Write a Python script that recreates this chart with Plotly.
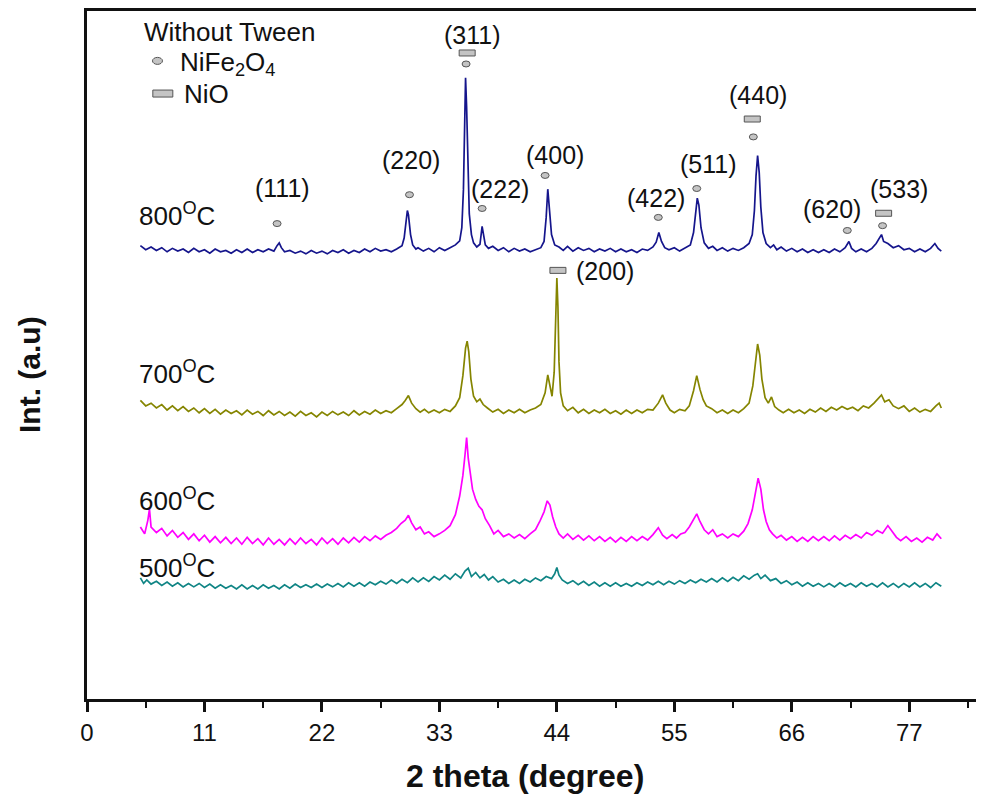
import plotly.graph_objects as go

# ---------------- data ----------------
tt_800 = [5.0, 5.5, 6.0, 6.5, 7.0, 7.5, 8.0, 8.5, 9.0, 9.5, 10.0, 10.5, 11.0, 11.5, 12.0, 12.5, 13.0, 13.5, 14.0, 14.5,
          15.0, 15.5, 16.0, 16.5, 17.0, 17.5, 17.8, 18.0, 18.2, 18.5, 19.0, 19.5, 20.0, 20.5, 21.0, 21.5, 22.0, 22.5,
          23.0, 23.5, 24.0, 24.5, 25.0, 25.5, 26.0, 26.5, 27.0, 27.5, 28.0, 28.5, 29.0, 29.5, 29.7, 29.9, 30.0, 30.1,
          30.3, 30.5, 30.8, 31.0, 31.5, 32.0, 32.5, 33.0, 33.5, 34.0, 34.5, 34.9, 35.1, 35.25, 35.35, 35.45, 35.55,
          35.65, 35.8, 36.0, 36.2, 36.5, 36.8, 37.0, 37.15, 37.3, 37.6, 38.0, 38.5, 39.0, 39.5, 40.0, 40.5, 41.0,
          41.5, 42.0, 42.5, 42.8, 43.0, 43.15, 43.3, 43.5, 43.8, 44.2, 44.6, 45.0, 45.5, 46.0, 46.5, 47.0, 47.5,
          48.0, 48.5, 49.0, 49.5, 50.0, 50.5, 51.0, 51.5, 52.0, 52.5, 53.0, 53.3, 53.55, 53.8, 54.1, 54.5, 55.0,
          55.5, 56.0, 56.5, 56.8, 57.0, 57.15, 57.3, 57.5, 57.8, 58.2, 58.6, 59.0, 59.5, 60.0, 60.5, 61.0, 61.5,
          62.0, 62.3, 62.5, 62.65, 62.8, 62.95, 63.1, 63.3, 63.6, 64.0, 64.3, 64.6, 65.0, 65.5, 66.0, 66.5, 67.0,
          67.5, 68.0, 68.5, 69.0, 69.5, 70.0, 70.5, 71.0, 71.35, 71.6, 72.0, 72.5, 73.0, 73.5, 73.9, 74.2, 74.4,
          74.6, 75.0, 75.5, 76.0, 76.5, 77.0, 77.5, 78.0, 78.5, 79.0, 79.4, 79.7, 80.0]
int_800 = [65.9, 65.3, 65.7, 65.2, 65.6, 65.0, 65.5, 65.1, 65.4, 64.9, 65.5, 65.0, 65.3, 64.8, 65.4, 65.0, 65.2, 64.8, 65.3, 64.9,
           65.4, 64.9, 65.3, 65.0, 65.4, 65.1, 65.9, 66.3, 65.6, 65.0, 65.2, 64.8, 65.1, 64.7, 65.2, 64.8, 65.1, 64.7,
           65.2, 64.9, 65.3, 64.8, 65.2, 64.9, 65.4, 65.0, 65.5, 65.1, 65.3, 65.0, 65.4, 65.9, 67.0, 70.0, 71.0, 70.4,
           67.5, 66.0, 65.4, 65.6, 65.1, 65.5, 65.0, 65.6, 65.2, 65.6, 66.0, 66.6, 68.5, 74.0, 82.0, 90.3, 86.0,
           78.0, 70.5, 67.5, 66.3, 65.7, 66.1, 68.7, 67.2, 66.0, 65.5, 65.8, 65.2, 65.6, 65.0, 65.5, 65.1, 65.4,
           65.0, 65.3, 65.6, 66.5, 70.0, 74.1, 71.5, 67.5, 66.0, 65.7, 65.2, 65.8, 65.1, 65.6, 65.2, 65.5, 65.0,
           65.4, 65.1, 65.5, 65.0, 65.4, 65.0, 65.3, 64.9, 65.4, 65.2, 65.7, 66.4, 67.8, 66.5, 65.6, 65.3, 65.6,
           65.1, 65.5, 66.0, 67.8, 71.0, 72.8, 71.8, 68.5, 66.3, 65.5, 65.8, 65.2, 65.6, 65.1, 65.5, 65.2, 65.6,
           66.2, 67.5, 71.0, 76.0, 79.0, 76.5, 71.5, 67.8, 66.2, 65.6, 66.0, 65.3, 65.7, 65.1, 65.5, 65.0, 65.4,
           64.9, 65.3, 64.9, 65.3, 64.9, 65.4, 65.0, 65.6, 66.5, 65.5, 65.0, 65.4, 65.0, 65.5, 66.2, 67.0, 67.5,
           66.5, 66.2, 65.6, 65.9, 65.3, 65.5, 65.0, 65.4, 65.0, 65.5, 66.2, 65.5, 65.1]

tt_700 = [5.0, 5.5, 6.0, 6.5, 7.0, 7.5, 8.0, 8.5, 9.0, 9.5, 10.0, 10.5, 11.0, 11.5, 12.0, 12.5, 13.0, 13.5, 14.0, 14.5,
          15.0, 15.5, 16.0, 16.5, 17.0, 17.5, 18.0, 18.5, 19.0, 19.5, 20.0, 20.5, 21.0, 21.5, 22.0, 22.5, 23.0, 23.5,
          24.0, 24.5, 25.0, 25.5, 26.0, 26.5, 27.0, 27.5, 28.0, 28.5, 29.0, 29.5, 29.8, 30.1, 30.4, 30.8, 31.2, 31.6,
          32.0, 32.5, 33.0, 33.5, 34.0, 34.5, 34.9, 35.2, 35.45, 35.6, 35.75, 35.95, 36.2, 36.5, 36.8, 37.1, 37.5,
          38.0, 38.5, 39.0, 39.5, 40.0, 40.5, 41.0, 41.5, 42.0, 42.5, 42.9, 43.15, 43.35, 43.55, 43.75, 43.9, 44.0,
          44.1, 44.2, 44.35, 44.6, 45.0, 45.5, 46.0, 46.5, 47.0, 47.5, 48.0, 48.5, 49.0, 49.5, 50.0, 50.5, 51.0,
          51.5, 52.0, 52.5, 53.0, 53.5, 53.9, 54.2, 54.6, 55.0, 55.5, 56.0, 56.4, 56.8, 57.1, 57.4, 57.7, 58.0,
          58.5, 59.0, 59.5, 60.0, 60.5, 61.0, 61.5, 62.0, 62.35, 62.6, 62.8, 63.0, 63.2, 63.5, 63.8, 64.1, 64.4,
          64.8, 65.2, 65.7, 66.2, 66.7, 67.2, 67.7, 68.2, 68.7, 69.2, 69.7, 70.2, 70.7, 71.2, 71.7, 72.2, 72.7,
          73.2, 73.7, 74.1, 74.4, 74.7, 75.1, 75.5, 76.0, 76.5, 77.0, 77.5, 78.0, 78.5, 79.0, 79.5, 79.8, 80.0]
int_700 = [43.4, 42.6, 43.0, 42.3, 42.8, 42.0, 42.6, 41.9, 42.5, 41.8, 42.3, 41.6, 42.2, 41.5, 42.1, 41.4, 42.0, 41.5, 41.9, 41.3,
           42.0, 41.4, 41.8, 41.2, 41.9, 41.3, 41.8, 41.2, 41.7, 41.1, 41.8, 41.2, 41.6, 41.0, 41.7, 41.2, 41.8, 41.3,
           41.7, 41.2, 41.9, 41.3, 41.8, 41.4, 42.0, 41.5, 41.9, 41.6, 42.2, 42.8, 43.4, 44.1, 43.0, 42.2, 41.7, 42.1,
           41.6, 42.0, 41.6, 42.1, 41.8, 42.6, 43.8, 47.0, 51.0, 52.0, 50.5, 46.5, 44.0, 43.2, 43.6, 42.8, 42.3,
           41.7, 42.1, 41.5, 42.0, 41.6, 42.1, 41.6, 42.0, 42.3, 42.8, 44.5, 47.1, 45.5, 44.0, 47.5, 56.0, 61.2,
           57.0, 49.0, 44.5, 42.6, 41.9, 42.4, 41.6, 42.1, 41.5, 42.0, 41.6, 42.1, 41.5, 41.9, 41.4, 42.0, 41.5,
           42.0, 41.6, 42.1, 42.0, 43.0, 44.2, 43.0, 42.0, 41.6, 42.1, 41.9, 42.6, 44.8, 47.0, 45.0, 43.5, 42.6,
           42.2, 41.6, 42.0, 41.5, 42.0, 41.6, 42.2, 43.0, 45.5, 49.5, 51.6, 50.0, 46.5, 43.8, 43.0, 43.9, 42.5,
           42.0, 41.6, 42.1, 41.6, 42.0, 41.5, 42.1, 41.7, 42.3, 41.8, 42.4, 42.0, 42.5, 42.1, 42.4, 41.9, 42.6,
           42.3, 43.0, 43.6, 44.2, 43.2, 43.5, 42.6, 42.2, 42.6, 41.8, 42.3, 41.7, 42.1, 41.8, 42.6, 43.0, 42.3]

tt_600 = [5.0, 5.4, 5.7, 5.85, 6.0, 6.5, 7.0, 7.5, 8.0, 8.5, 9.0, 9.5, 10.0, 10.5, 11.0, 11.5, 12.0, 12.5, 13.0, 13.5,
          14.0, 14.5, 15.0, 15.5, 16.0, 16.5, 17.0, 17.5, 18.0, 18.5, 19.0, 19.5, 20.0, 20.5, 21.0, 21.5, 22.0, 22.5,
          23.0, 23.5, 24.0, 24.5, 25.0, 25.5, 26.0, 26.5, 27.0, 27.5, 28.0, 28.5, 29.0, 29.4, 29.8, 30.1, 30.4, 30.8,
          31.2, 31.6, 32.0, 32.5, 33.0, 33.5, 34.0, 34.5, 34.9, 35.2, 35.4, 35.55, 35.7, 35.9, 36.1, 36.4, 36.7,
          37.0, 37.3, 37.7, 38.1, 38.5, 39.0, 39.5, 40.0, 40.5, 41.0, 41.5, 42.0, 42.4, 42.8, 43.1, 43.35, 43.6,
          43.9, 44.2, 44.6, 45.0, 45.5, 46.0, 46.5, 47.0, 47.5, 48.0, 48.5, 49.0, 49.5, 50.0, 50.5, 51.0, 51.5,
          52.0, 52.5, 53.0, 53.5, 53.9, 54.3, 54.8, 55.2, 55.6, 56.0, 56.4, 56.8, 57.1, 57.4, 57.8, 58.2, 58.6,
          59.0, 59.5, 60.0, 60.5, 61.0, 61.5, 61.9, 62.3, 62.6, 62.85, 63.1, 63.35, 63.6, 63.9, 64.2, 64.6, 65.0,
          65.5, 66.0, 66.5, 67.0, 67.5, 68.0, 68.5, 69.0, 69.5, 70.0, 70.5, 71.0, 71.5, 72.0, 72.5, 73.0, 73.5,
          74.0, 74.5, 75.0, 75.4, 75.8, 76.2, 76.7, 77.2, 77.7, 78.2, 78.7, 79.2, 79.6, 80.0]
int_600 = [25.0, 24.0, 26.0, 27.6, 25.0, 24.2, 24.8, 23.7, 24.5, 23.5, 24.2, 23.2, 24.0, 23.0, 23.8, 22.8, 23.6, 22.7, 23.5, 22.6,
           23.4, 22.5, 23.5, 22.6, 23.3, 22.4, 23.4, 22.5, 23.2, 22.4, 23.3, 22.5, 23.4, 22.6, 23.2, 22.4, 23.4, 22.6,
           23.3, 22.5, 23.4, 22.7, 23.5, 22.8, 23.6, 23.0, 23.7, 23.2, 23.8, 24.2, 24.8, 25.5, 26.0, 26.7, 25.6, 24.6,
           25.0, 24.0, 24.3, 23.6, 24.0, 24.5, 25.2, 26.8, 29.5, 32.5, 35.5, 38.0, 35.0, 32.5, 30.5, 29.0, 28.0,
           27.5, 26.2, 25.2, 24.0, 24.5, 23.6, 24.0, 23.4, 23.9, 23.3, 24.0, 24.6, 25.8, 27.2, 28.8, 28.2, 26.5,
           25.0, 24.0, 23.4, 24.0, 23.2, 23.8, 23.1, 23.7, 23.0, 23.6, 22.9, 23.5, 22.8, 23.5, 22.9, 23.6, 23.0,
           23.6, 23.1, 23.9, 24.9, 23.8, 23.3, 23.9, 23.4, 24.0, 24.2, 25.0, 26.0, 26.9, 25.8, 24.6, 24.0, 24.6,
           23.6, 24.0, 23.4, 24.0, 23.6, 24.4, 25.5, 27.5, 30.0, 32.1, 30.5, 27.5, 25.8, 24.6, 24.0, 23.4, 23.8,
           23.1, 23.6, 22.9, 23.5, 22.9, 23.6, 23.0, 23.6, 23.0, 23.7, 23.1, 23.8, 23.3, 23.9, 23.4, 24.2, 23.8,
           24.5, 24.1, 25.2, 24.3, 23.5, 23.0, 23.6, 22.9, 23.4, 22.8, 23.5, 23.1, 24.0, 23.3]

tt_500 = [5.0, 5.3, 5.6, 6.0, 6.5, 7.0, 7.5, 8.0, 8.5, 9.0, 9.5, 10.0, 10.5, 11.0, 11.5, 12.0, 12.5, 13.0, 13.5, 14.0,
          14.5, 15.0, 15.5, 16.0, 16.5, 17.0, 17.5, 18.0, 18.5, 19.0, 19.5, 20.0, 20.5, 21.0, 21.5, 22.0, 22.5, 23.0,
          23.5, 24.0, 24.5, 25.0, 25.5, 26.0, 26.5, 27.0, 27.5, 28.0, 28.5, 29.0, 29.5, 30.0, 30.5, 31.0, 31.5, 32.0,
          32.5, 33.0, 33.5, 34.0, 34.5, 35.0, 35.4, 35.7, 36.0, 36.4, 36.8, 37.2, 37.6, 38.0, 38.5, 39.0, 39.5,
          40.0, 40.5, 41.0, 41.5, 42.0, 42.5, 43.0, 43.5, 43.8, 44.0, 44.2, 44.5, 45.0, 45.5, 46.0, 46.5, 47.0,
          47.5, 48.0, 48.5, 49.0, 49.5, 50.0, 50.5, 51.0, 51.5, 52.0, 52.5, 53.0, 53.5, 54.0, 54.5, 55.0, 55.5,
          56.0, 56.5, 57.0, 57.5, 58.0, 58.5, 59.0, 59.5, 60.0, 60.5, 61.0, 61.5, 62.0, 62.5, 62.8, 63.1, 63.5,
          64.0, 64.5, 65.0, 65.5, 66.0, 66.5, 67.0, 67.5, 68.0, 68.5, 69.0, 69.5, 70.0, 70.5, 71.0, 71.5, 72.0,
          72.5, 73.0, 73.5, 74.0, 74.5, 75.0, 75.5, 76.0, 76.5, 77.0, 77.5, 78.0, 78.5, 79.0, 79.5, 80.0]
int_500 = [17.6, 16.8, 17.3, 16.7, 17.1, 16.5, 17.0, 16.4, 16.9, 16.3, 16.8, 16.3, 16.8, 16.2, 16.7, 16.1, 16.6, 16.1, 16.5, 16.0,
           16.6, 16.0, 16.5, 16.0, 16.6, 16.1, 16.5, 16.0, 16.6, 16.1, 16.7, 16.2, 16.6, 16.2, 16.7, 16.2, 16.7, 16.3,
           16.8, 16.3, 16.9, 16.4, 16.9, 16.4, 17.0, 16.6, 17.1, 16.7, 17.3, 16.8, 17.4, 16.9, 17.6, 17.0, 17.6, 17.1,
           17.8, 17.3, 18.0, 17.4, 18.2, 17.6, 18.6, 19.0, 17.8, 18.4, 17.6, 18.1, 17.3, 17.8, 17.0, 17.4, 16.8,
           17.3, 16.8, 17.4, 17.0, 17.6, 17.2, 17.8, 17.5, 18.2, 19.1, 18.0, 17.3, 16.8, 17.2, 16.6, 17.1, 16.5,
           17.0, 16.4, 16.9, 16.4, 16.9, 16.4, 16.8, 16.4, 16.9, 16.5, 17.0, 16.6, 17.1, 16.6, 17.1, 16.7, 17.2,
           16.8, 17.3, 16.9, 17.4, 17.0, 17.5, 17.0, 17.6, 17.1, 17.7, 17.2, 17.9, 17.4, 18.0, 18.2, 17.5, 18.0,
           17.2, 17.5, 16.8, 17.2, 16.6, 17.0, 16.4, 16.9, 16.4, 16.8, 16.3, 16.8, 16.3, 16.9, 16.4, 16.8, 16.3,
           16.9, 16.4, 16.8, 16.3, 16.9, 16.3, 16.8, 16.2, 16.8, 16.3, 16.9, 16.3, 16.8, 16.2, 16.9, 16.4]

series_names = ["800", "700", "600", "500"]
temp_label_x = [4.7, 4.7, 4.7, 4.7]
temp_label_y = [70.4, 47.4, 29.0, 19.3]

# phase markers (NiFe2O4 ellipses, NiO bars)
ferrite_x = [17.8, 30.2, 35.5, 37.0, 42.9, 53.5, 57.1, 62.4, 71.2, 74.5]
ferrite_y = [69.1, 73.3, 92.3, 71.3, 76.1, 70.0, 74.2, 81.7, 68.1, 68.8]
nio_x = [35.6, 62.3, 74.6, 44.1]
nio_y = [93.9, 84.3, 70.6, 62.3]

hkl_labels = ["(111)", "(220)", "(311)", "(222)", "(400)", "(422)", "(511)", "(440)", "(620)", "(533)", "(200)"]
hkl_x = [18.3, 30.3, 36.1, 38.7, 43.8, 53.3, 58.2, 62.8, 69.8, 76.0, 48.5]
hkl_y = [74.3, 78.4, 96.5, 74.2, 79.0, 72.8, 77.8, 87.8, 71.2, 74.2, 62.2]

x_ticks = [0, 11, 22, 33, 44, 55, 66, 77]

# ---------------- figure ----------------
colors = ["#15158c", "#858500", "#ff00ff", "#108585"]
xs = [tt_800, tt_700, tt_600, tt_500]
ys = [int_800, int_700, int_600, int_500]

fig = go.Figure()
for name, x, y, c in zip(series_names, xs, ys, colors):
    fig.add_trace(go.Scatter(x=x, y=y, mode="lines", name=name + " °C",
                             line=dict(color=c, width=1.7), showlegend=False))

FONT = "Liberation Sans, Arial, sans-serif"
MFILL = "#c4c4c4"
MLINE = "#555555"
shapes = []
for x, y in zip(ferrite_x, ferrite_y):
    shapes.append(dict(type="circle", xref="x", yref="y", xsizemode="pixel", ysizemode="pixel",
                       xanchor=x, yanchor=y, x0=-4, x1=4, y0=-3, y1=3,
                       fillcolor=MFILL, line=dict(color=MLINE, width=1)))
for x, y in zip(nio_x, nio_y):
    shapes.append(dict(type="rect", xref="x", yref="y", xsizemode="pixel", ysizemode="pixel",
                       xanchor=x, yanchor=y, x0=-8, x1=8, y0=-3, y1=3,
                       fillcolor=MFILL, line=dict(color=MLINE, width=1)))
# legend symbols
shapes.append(dict(type="circle", xref="x", yref="y", xsizemode="pixel", ysizemode="pixel",
                   xanchor=6.6, yanchor=92.75, x0=-5, x1=5, y0=-3.5, y1=3.5,
                   fillcolor=MFILL, line=dict(color=MLINE, width=1)))
shapes.append(dict(type="rect", xref="x", yref="y", xsizemode="pixel", ysizemode="pixel",
                   xanchor=7.1, yanchor=88.0, x0=-10, x1=10, y0=-3.5, y1=3.5,
                   fillcolor=MFILL, line=dict(color=MLINE, width=1)))

TXT = "#111111"
annotations = []
for t, x, y in zip(hkl_labels, hkl_x, hkl_y):
    annotations.append(dict(x=x, y=y, xref="x", yref="y", text=t, showarrow=False,
                            font=dict(family=FONT, size=25, color=TXT)))
for n, x, y in zip(series_names, temp_label_x, temp_label_y):
    annotations.append(dict(x=x, y=y, xref="x", yref="y", text=n + "<sup>O</sup>C", showarrow=False,
                            xanchor="left", font=dict(family=FONT, size=26, color=TXT)))
annotations.append(dict(x=5.15, y=97.0, xref="x", yref="y", text="Without Tween", showarrow=False,
                        xanchor="left", font=dict(family=FONT, size=26, color=TXT)))
annotations.append(dict(x=8.5, y=92.3, xref="x", yref="y", text="NiFe<sub>2</sub>O<sub>4</sub>", showarrow=False,
                        xanchor="left", font=dict(family=FONT, size=26, color=TXT)))
annotations.append(dict(x=8.9, y=88.0, xref="x", yref="y", text="NiO", showarrow=False,
                        xanchor="left", font=dict(family=FONT, size=26, color=TXT)))
# axis titles
annotations.append(dict(x=0.488, y=-0.1116, xref="paper", yref="paper", text="<b>2 theta (degree)</b>",
                        showarrow=False, yanchor="middle",
                        font=dict(family=FONT, size=32, color=TXT)))
annotations.append(dict(x=-0.0635, y=0.471, xref="paper", yref="paper", text="<b>Int. (a.u)</b>",
                        showarrow=False, textangle=-90, xanchor="center", yanchor="middle",
                        font=dict(family=FONT, size=30, color=TXT)))

# the page body has an 8 px margin, so the figure is 8 px smaller and the margins shifted
fig.update_layout(
    width=976, height=790,
    margin=dict(l=79, r=0, t=1, b=99),
    paper_bgcolor="white", plot_bgcolor="white",
    shapes=shapes, annotations=annotations,
    showlegend=False,
)
fig.update_xaxes(range=[0, 84], showgrid=False, zeroline=False,
                 showline=True, linecolor=TXT, linewidth=2.5, mirror=True,
                 ticks="outside", ticklen=10, tickwidth=2.5, tickcolor=TXT,
                 tickvals=x_ticks, ticktext=[str(v) for v in x_ticks],
                 tickfont=dict(family=FONT, size=24, color=TXT),
                 minor=dict(ticks="outside", ticklen=6, tickwidth=2, tickcolor=TXT,
                            dtick=5.5, tick0=0, showgrid=False))
fig.update_yaxes(range=[0, 100], showgrid=False, zeroline=False,
                 showline=True, linecolor=TXT, linewidth=2.5,
                 showticklabels=False, ticks="")

fig.write_html("out.html")
